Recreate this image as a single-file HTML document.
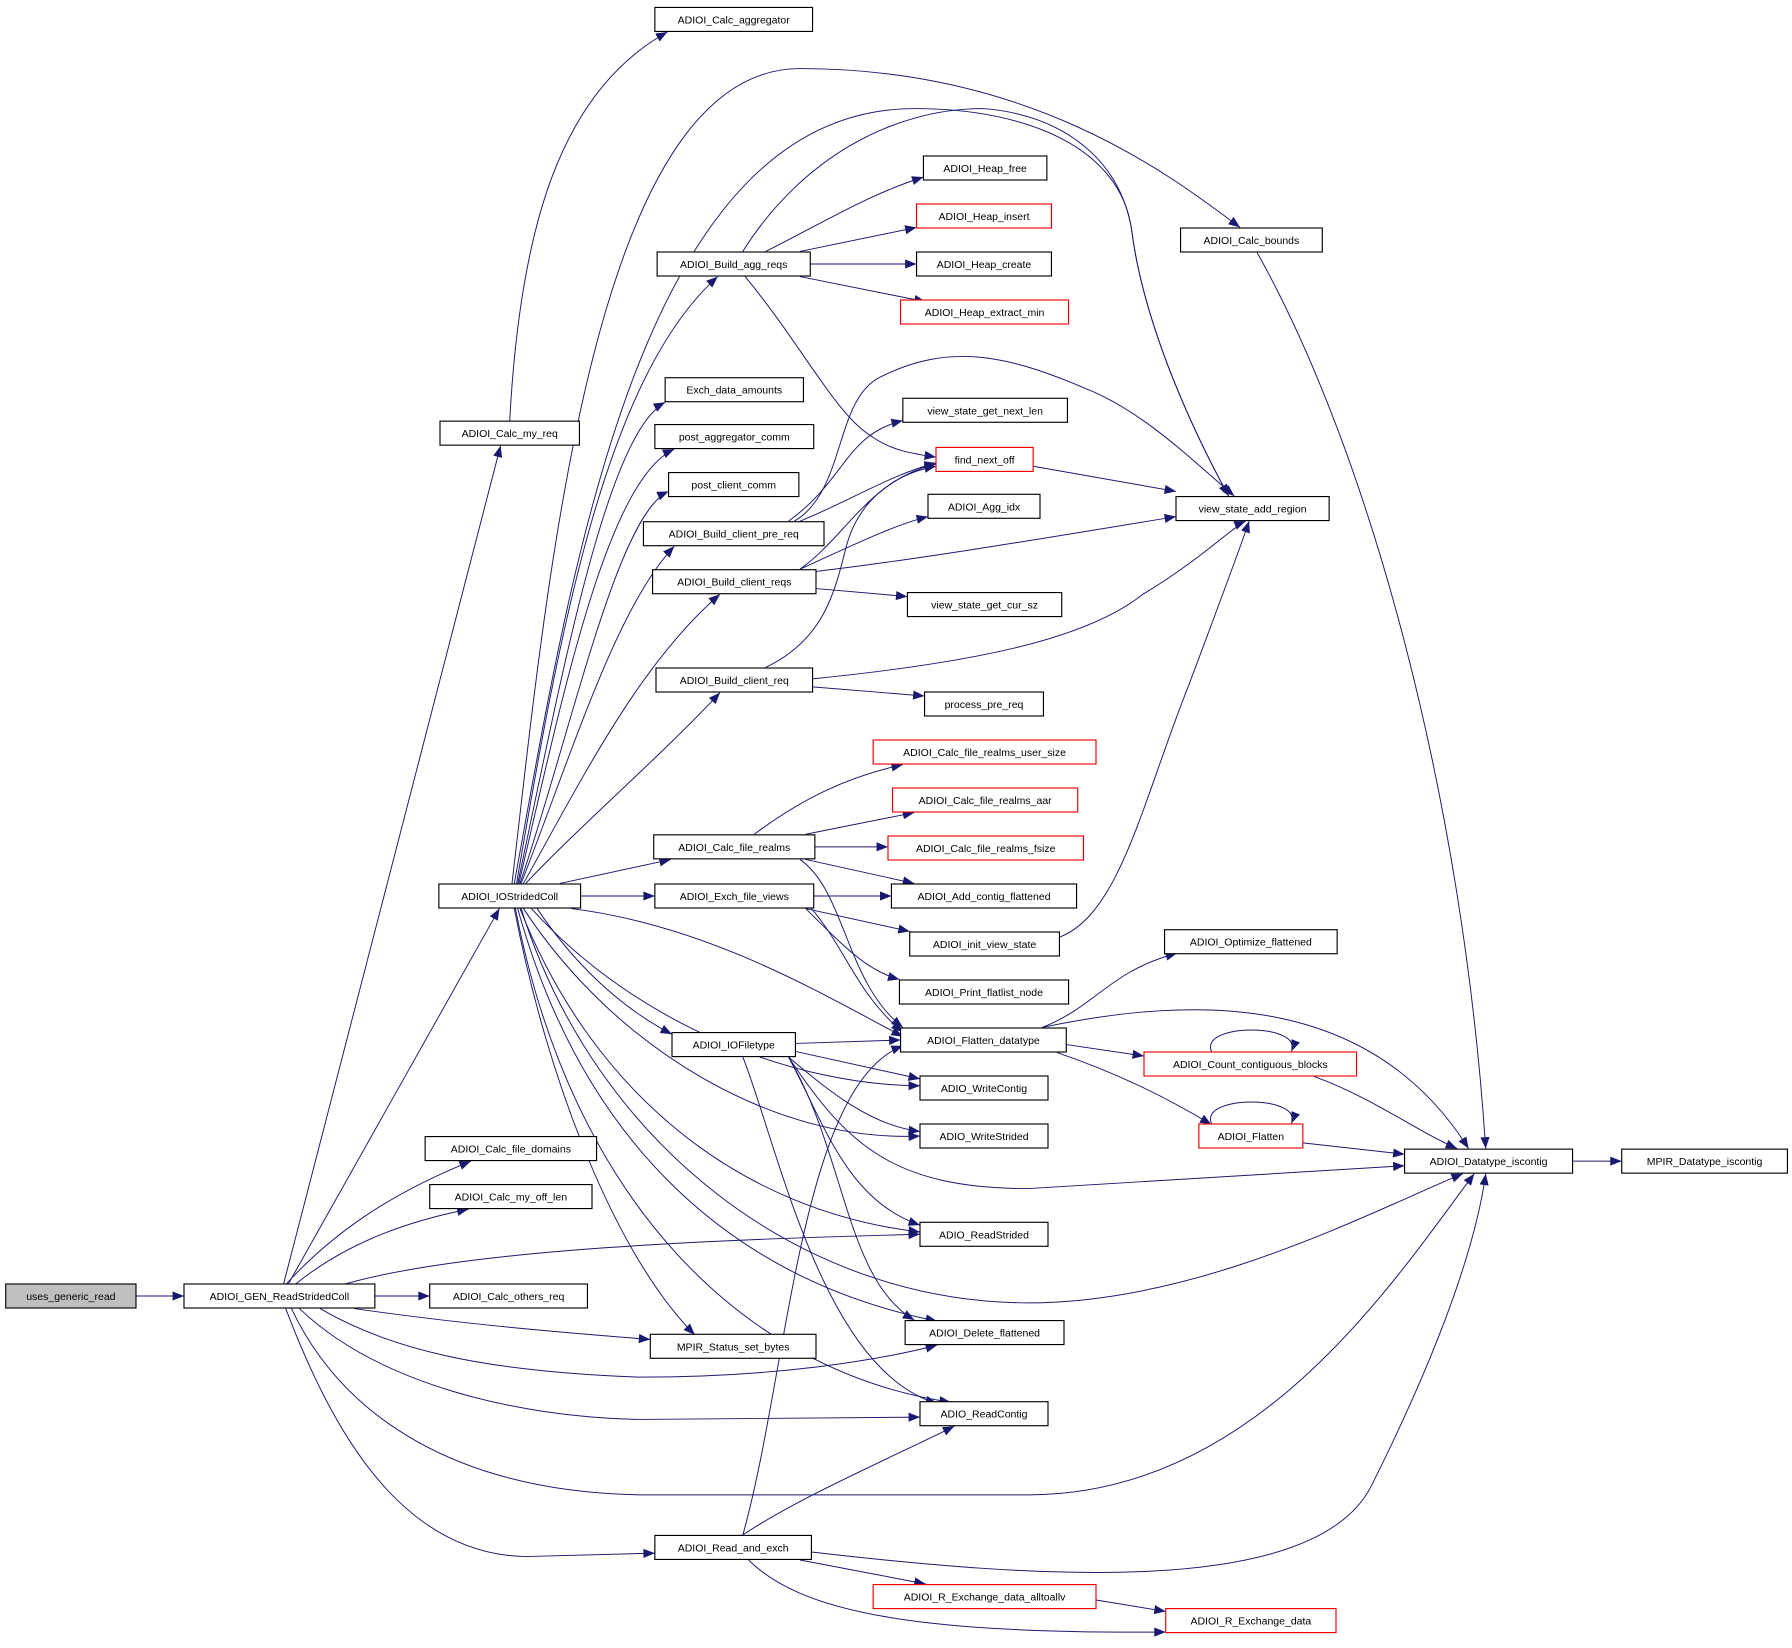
<!DOCTYPE html>
<html><head><meta charset="utf-8"><style>
html,body{margin:0;padding:0;background:#fff;}
svg{display:block;}
text{font-family:"Liberation Sans",Arial,sans-serif;font-size:9.2px;fill:#000;}
</style></head><body>
<svg width="1792" height="1648" viewBox="0 0 1568 1442" preserveAspectRatio="none" xmlns="http://www.w3.org/2000/svg">
<defs><marker id="a" viewBox="0 0 10 8" refX="10" refY="4" markerWidth="11" markerHeight="8" markerUnits="userSpaceOnUse" orient="auto"><path d="M0,0 L10,4 L0,8 Z" fill="#191970"/></marker></defs>
<g fill="none" stroke="#191970" stroke-width="0.85" marker-end="url(#a)">
<path d="M119,1134 L161,1134"/>
<path d="M328,1134 L376,1134"/>
<path d="M250,1124 C290,1080 340,1045 412,1016"/>
<path d="M258,1124 C300,1090 350,1070 410,1058"/>
<path d="M248,1124 L438,390"/>
<path d="M252,1124 L437,795"/>
<path d="M300,1124 C400,1095 600,1085 805,1080"/>
<path d="M310,1145 C400,1158 480,1165 569,1172"/>
<path d="M280,1145 C340,1180 420,1200 560,1205 C680,1205 770,1190 820,1177"/>
<path d="M262,1145 C330,1210 450,1240 560,1242 L805,1240"/>
<path d="M255,1145 C300,1240 400,1305 560,1308 L900,1308 C1100,1308 1220,1120 1290,1027"/>
<path d="M250,1145 C290,1250 350,1360 460,1362 L573,1359"/>
<path d="M446,368 C455,200 490,80 584,28"/>
<path d="M448,773 C480,500 520,60 700,60 C900,60 1020,150 1085,199"/>
<path d="M450,773 C500,500 560,95 800,95 C900,95 980,130 990,200 C1000,280 1040,370 1075,434"/>
<path d="M650,220 C700,140 780,95 860,95 C930,100 980,140 990,200 C1000,280 1040,370 1075,434"/>
<path d="M452,773 C490,550 530,330 628,242"/>
<path d="M453,773 C490,600 530,380 582,352"/>
<path d="M454,773 C490,620 530,420 590,393"/>
<path d="M455,773 C500,640 540,450 585,430"/>
<path d="M456,773 C500,660 540,530 590,478"/>
<path d="M458,773 C510,680 560,580 630,520"/>
<path d="M460,773 C510,720 580,660 630,606"/>
<path d="M490,773 L587,752"/>
<path d="M508,784 L573,784"/>
<path d="M470,795 C500,840 540,880 588,905"/>
<path d="M500,795 C620,810 720,870 790,907"/>
<path d="M465,795 C560,900 700,950 805,950"/>
<path d="M458,795 C540,920 680,1000 805,994"/>
<path d="M455,795 C520,960 650,1060 805,1078"/>
<path d="M453,795 C510,1000 640,1120 820,1156"/>
<path d="M451,795 C500,1050 650,1200 832,1227"/>
<path d="M450,795 C480,950 540,1100 608,1168"/>
<path d="M456,795 C520,1000 700,1140 900,1140 C1050,1140 1200,1060 1280,1027"/>
<path d="M670,220 C720,195 760,170 808,155"/>
<path d="M700,220 L802,199"/>
<path d="M709,231 L802,231"/>
<path d="M700,242 C740,250 780,258 810,264"/>
<path d="M652,242 C700,300 730,360 760,380 C780,395 800,397 819,400"/>
<path d="M690,456 C740,420 740,380 790,368"/>
<path d="M700,456 C740,440 780,415 819,405"/>
<path d="M695,456 C740,430 730,350 770,330 C830,300 880,310 950,340 C1000,360 1040,400 1080,434"/>
<path d="M700,498 C740,470 760,420 819,406"/>
<path d="M700,498 C740,480 780,460 812,452"/>
<path d="M714,500 C800,490 920,470 1029,452"/>
<path d="M714,515 L794,522"/>
<path d="M670,584 C720,560 730,520 740,480 C750,440 780,415 819,408"/>
<path d="M711,594 C850,580 950,560 1000,520 C1050,490 1080,460 1090,456"/>
<path d="M711,601 L809,609"/>
<path d="M904,408 L1029,430"/>
<path d="M660,730 C700,700 740,680 790,669"/>
<path d="M705,730 L800,711"/>
<path d="M713,741 L777,741"/>
<path d="M705,752 L800,773"/>
<path d="M700,752 C740,780 740,860 790,899"/>
<path d="M712,784 L780,784"/>
<path d="M705,795 L796,815"/>
<path d="M705,795 C740,830 760,850 787,857"/>
<path d="M710,795 C740,830 750,870 790,903"/>
<path d="M927,820 C980,800 1000,700 1040,600 C1070,520 1085,480 1093,456"/>
<path d="M696,913 L788,910"/>
<path d="M696,920 L805,944"/>
<path d="M690,925 C720,950 760,985 805,990"/>
<path d="M690,925 C720,980 740,1050 805,1072"/>
<path d="M690,925 C740,1000 780,1040 900,1040 L1229,1020"/>
<path d="M690,925 C740,1010 740,1120 800,1155"/>
<path d="M650,925 C680,1000 720,1200 820,1228"/>
<path d="M912,899 C960,880 970,850 1030,834"/>
<path d="M912,899 C1050,870 1200,870 1285,1005"/>
<path d="M933,914 L1001,924"/>
<path d="M925,921 C980,940 1020,960 1060,984"/>
<path d="M1060,920 C1050,895 1140,895 1130,920"/>
<path d="M1060,983 C1050,958 1140,958 1130,983"/>
<path d="M1150,942 C1200,960 1240,990 1275,1005"/>
<path d="M1140,1000 L1229,1010"/>
<path d="M1100,221 C1200,400 1280,700 1300,1005"/>
<path d="M1376,1016 L1419,1016"/>
<path d="M650,1343 C700,1310 770,1280 835,1248"/>
<path d="M650,1343 C690,1200 700,950 790,915"/>
<path d="M710,1358 C900,1380 1150,1400 1200,1300 C1250,1200 1290,1100 1300,1027"/>
<path d="M700,1365 L810,1386"/>
<path d="M655,1365 C700,1410 800,1430 1020,1428"/>
<path d="M959,1400 L1020,1410"/>
</g>
<g stroke-width="1" text-anchor="middle">
<rect x="5" y="1123.5" width="114" height="21" fill="#bfbfbf" stroke="#000"/><text x="62" y="1137.5">uses_generic_read</text>
<rect x="161" y="1123.5" width="167" height="21" fill="#fff" stroke="#000"/><text x="244.5" y="1137.5">ADIOI_GEN_ReadStridedColl</text>
<rect x="376" y="1123.5" width="138" height="21" fill="#fff" stroke="#000"/><text x="445" y="1137.5">ADIOI_Calc_others_req</text>
<rect x="372" y="994.5" width="150" height="21" fill="#fff" stroke="#000"/><text x="447" y="1008.5">ADIOI_Calc_file_domains</text>
<rect x="376" y="1036.5" width="142" height="21" fill="#fff" stroke="#000"/><text x="447" y="1050.5">ADIOI_Calc_my_off_len</text>
<rect x="569" y="1167.5" width="145" height="21" fill="#fff" stroke="#000"/><text x="641.5" y="1181.5">MPIR_Status_set_bytes</text>
<rect x="573" y="1343.5" width="137" height="21" fill="#fff" stroke="#000"/><text x="641.5" y="1357.5">ADIOI_Read_and_exch</text>
<rect x="384" y="773.5" width="124" height="21" fill="#fff" stroke="#000"/><text x="446" y="787.5">ADIOI_IOStridedColl</text>
<rect x="385" y="368.5" width="122" height="21" fill="#fff" stroke="#000"/><text x="446" y="382.5">ADIOI_Calc_my_req</text>
<rect x="573" y="6.5" width="138" height="21" fill="#fff" stroke="#000"/><text x="642" y="20.5">ADIOI_Calc_aggregator</text>
<rect x="575" y="220.5" width="134" height="21" fill="#fff" stroke="#000"/><text x="642" y="234.5">ADIOI_Build_agg_reqs</text>
<rect x="582" y="330.5" width="121" height="21" fill="#fff" stroke="#000"/><text x="642.5" y="344.5">Exch_data_amounts</text>
<rect x="573" y="371.5" width="139" height="21" fill="#fff" stroke="#000"/><text x="642.5" y="385.5">post_aggregator_comm</text>
<rect x="585" y="413.5" width="114" height="21" fill="#fff" stroke="#000"/><text x="642" y="427.5">post_client_comm</text>
<rect x="563" y="456.5" width="158" height="21" fill="#fff" stroke="#000"/><text x="642" y="470.5">ADIOI_Build_client_pre_req</text>
<rect x="571" y="498.5" width="143" height="21" fill="#fff" stroke="#000"/><text x="642.5" y="512.5">ADIOI_Build_client_reqs</text>
<rect x="574" y="584.5" width="137" height="21" fill="#fff" stroke="#000"/><text x="642.5" y="598.5">ADIOI_Build_client_req</text>
<rect x="572" y="730.5" width="141" height="21" fill="#fff" stroke="#000"/><text x="642.5" y="744.5">ADIOI_Calc_file_realms</text>
<rect x="573" y="773.5" width="139" height="21" fill="#fff" stroke="#000"/><text x="642.5" y="787.5">ADIOI_Exch_file_views</text>
<rect x="588" y="903.5" width="108" height="21" fill="#fff" stroke="#000"/><text x="642" y="917.5">ADIOI_IOFiletype</text>
<rect x="808" y="136.5" width="108" height="21" fill="#fff" stroke="#000"/><text x="862" y="150.5">ADIOI_Heap_free</text>
<rect x="802" y="178.5" width="118" height="21" fill="#fff" stroke="#e00"/><text x="861" y="192.5">ADIOI_Heap_insert</text>
<rect x="802" y="220.5" width="118" height="21" fill="#fff" stroke="#000"/><text x="861" y="234.5">ADIOI_Heap_create</text>
<rect x="788" y="262.5" width="147" height="21" fill="#fff" stroke="#e00"/><text x="861.5" y="276.5">ADIOI_Heap_extract_min</text>
<rect x="790" y="348.5" width="144" height="21" fill="#fff" stroke="#000"/><text x="862" y="362.5">view_state_get_next_len</text>
<rect x="819" y="391.5" width="85" height="21" fill="#fff" stroke="#e00"/><text x="861.5" y="405.5">find_next_off</text>
<rect x="812" y="432.5" width="98" height="21" fill="#fff" stroke="#000"/><text x="861" y="446.5">ADIOI_Agg_idx</text>
<rect x="794" y="518.5" width="135" height="21" fill="#fff" stroke="#000"/><text x="861.5" y="532.5">view_state_get_cur_sz</text>
<rect x="809" y="605.5" width="104" height="21" fill="#fff" stroke="#000"/><text x="861" y="619.5">process_pre_req</text>
<rect x="764" y="647.5" width="195" height="21" fill="#fff" stroke="#e00"/><text x="861.5" y="661.5">ADIOI_Calc_file_realms_user_size</text>
<rect x="781" y="689.5" width="162" height="21" fill="#fff" stroke="#e00"/><text x="862" y="703.5">ADIOI_Calc_file_realms_aar</text>
<rect x="777" y="731.5" width="171" height="21" fill="#fff" stroke="#e00"/><text x="862.5" y="745.5">ADIOI_Calc_file_realms_fsize</text>
<rect x="780" y="773.5" width="162" height="21" fill="#fff" stroke="#000"/><text x="861" y="787.5">ADIOI_Add_contig_flattened</text>
<rect x="796" y="815.5" width="131" height="21" fill="#fff" stroke="#000"/><text x="861.5" y="829.5">ADIOI_init_view_state</text>
<rect x="787" y="857.5" width="148" height="21" fill="#fff" stroke="#000"/><text x="861" y="871.5">ADIOI_Print_flatlist_node</text>
<rect x="788" y="899.5" width="145" height="21" fill="#fff" stroke="#000"/><text x="860.5" y="913.5">ADIOI_Flatten_datatype</text>
<rect x="805" y="941.5" width="112" height="21" fill="#fff" stroke="#000"/><text x="861" y="955.5">ADIO_WriteContig</text>
<rect x="805" y="983.5" width="112" height="21" fill="#fff" stroke="#000"/><text x="861" y="997.5">ADIO_WriteStrided</text>
<rect x="805" y="1069.5" width="112" height="21" fill="#fff" stroke="#000"/><text x="861" y="1083.5">ADIO_ReadStrided</text>
<rect x="792" y="1155.5" width="139" height="21" fill="#fff" stroke="#000"/><text x="861.5" y="1169.5">ADIOI_Delete_flattened</text>
<rect x="805" y="1226.5" width="112" height="21" fill="#fff" stroke="#000"/><text x="861" y="1240.5">ADIO_ReadContig</text>
<rect x="764" y="1386.5" width="195" height="21" fill="#fff" stroke="#e00"/><text x="861.5" y="1400.5">ADIOI_R_Exchange_data_alltoallv</text>
<rect x="1020" y="1407.5" width="149" height="21" fill="#fff" stroke="#e00"/><text x="1094.5" y="1421.5">ADIOI_R_Exchange_data</text>
<rect x="1033" y="199.5" width="124" height="21" fill="#fff" stroke="#000"/><text x="1095" y="213.5">ADIOI_Calc_bounds</text>
<rect x="1029" y="434.5" width="134" height="21" fill="#fff" stroke="#000"/><text x="1096" y="448.5">view_state_add_region</text>
<rect x="1019" y="813.5" width="151" height="21" fill="#fff" stroke="#000"/><text x="1094.5" y="827.5">ADIOI_Optimize_flattened</text>
<rect x="1001" y="920.5" width="186" height="21" fill="#fff" stroke="#e00"/><text x="1094" y="934.5">ADIOI_Count_contiguous_blocks</text>
<rect x="1049" y="983.5" width="91" height="21" fill="#fff" stroke="#e00"/><text x="1094.5" y="997.5">ADIOI_Flatten</text>
<rect x="1229" y="1005.5" width="147" height="21" fill="#fff" stroke="#000"/><text x="1302.5" y="1019.5">ADIOI_Datatype_iscontig</text>
<rect x="1419" y="1005.5" width="145" height="21" fill="#fff" stroke="#000"/><text x="1491.5" y="1019.5">MPIR_Datatype_iscontig</text>
</g>
</svg>
</body></html>
